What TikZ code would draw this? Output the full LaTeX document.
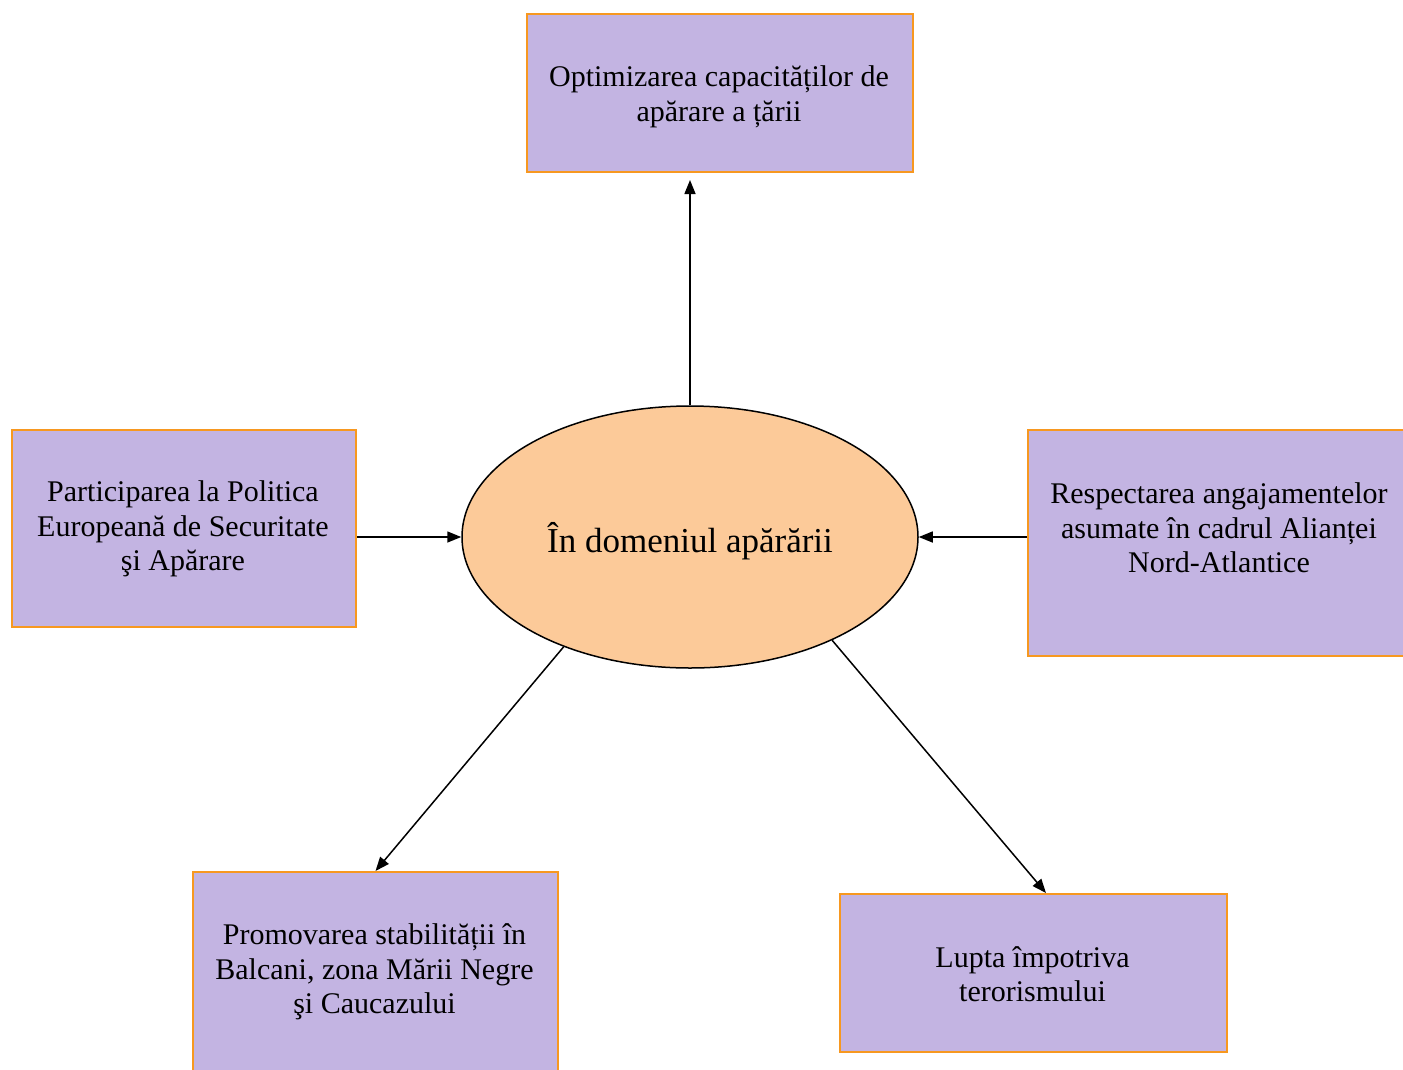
\documentclass[tikz,border=0pt]{standalone}
\usepackage{fontspec}
\setmainfont{Liberation Serif}
\usetikzlibrary{shapes.geometric,arrows.meta}
\definecolor{boxfill}{RGB}{195,180,226}
\definecolor{boxline}{RGB}{247,152,32}
\definecolor{hubfill}{RGB}{252,202,153}
\tikzset{
  goalbox/.style={draw=boxline, fill=boxfill, line width=2pt, inner sep=0pt, anchor=north west},
  goaltext/.style={align=center, font=\fontsize{30}{34.5}\selectfont, inner sep=0pt},
  hub/.style={ellipse, draw=black, fill=hubfill, line width=1.5pt, inner sep=0pt,
    minimum width=456pt, minimum height=262pt},
  hubtext/.style={font=\fontsize{35}{40}\selectfont, inner sep=0pt},
  link/.style={line width=1.5pt, -{Triangle[length=14pt,width=11pt]}}
}
\begin{document}
\begin{tikzpicture}[x=1pt,y=-1pt]
\useasboundingbox (0,0) rectangle (1403,1069);

% central ellipse
\node[hub] (hub) at (690,537) {};
\node[hubtext] (hubtxt) at (690,541) {În domeniul apărării};

% surrounding boxes
\node[goalbox, minimum width=386pt, minimum height=158pt] (top) at (526,13) {};
\node[goaltext] (toptxt) at (719,97) {Optimizarea capacităților de\\apărare a țării};

\node[goalbox, minimum width=344pt, minimum height=197pt] (left) at (11,429) {};
\node[goaltext] (lefttxt) at (183,529) {Participarea la Politica\\Europeană de Securitate\\şi Apărare};

\node[goalbox, minimum width=376pt, minimum height=226pt] (right) at (1027,429) {};
\node[goaltext] (righttxt) at (1219,528) {Respectarea angajamentelor\\asumate în cadrul Alianței\\Nord-Atlantice};

\node[goalbox, minimum width=365pt, minimum height=210pt] (bl) at (192,871) {};
\node[goaltext] (bltxt) at (374.5,972) {Promovarea stabilității în\\Balcani, zona Mării Negre\\şi Caucazului};

\node[goalbox, minimum width=387pt, minimum height=158pt] (br) at (839,893) {};
\node[goaltext] (brtxt) at (1032.5,974) {Lupta împotriva\\terorismului};
\coordinate (brin) at (1046,893);

% connectors
\draw[link, shorten >=7pt] (hub.north) -- (hub.north |- top.south);
\draw[link] (hub.west -| left.east) -- (hub.west);
\draw[link] (hub.east -| right.west) -- (hub.east);
\draw[link] (hub.221.3) -- (bl.north);
\draw[link] (hub.324.1) -- (brin);
\end{tikzpicture}
\end{document}
